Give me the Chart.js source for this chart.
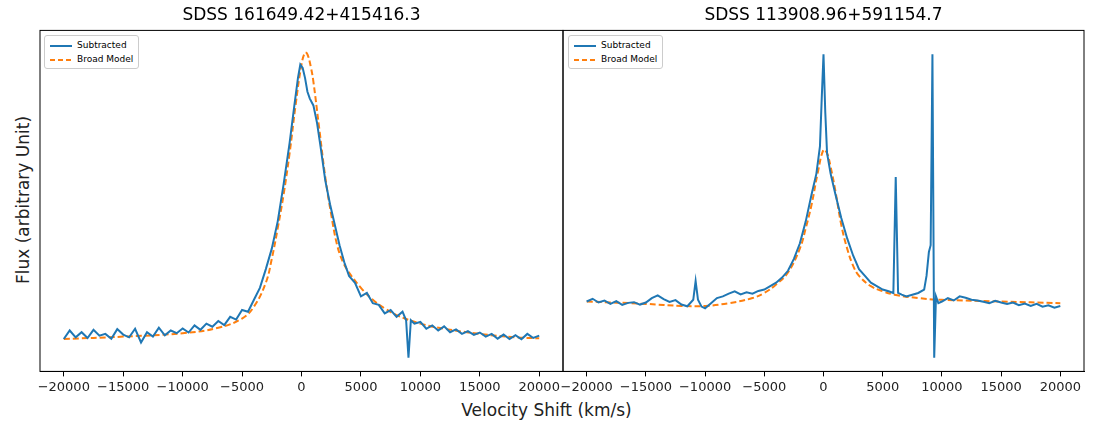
<!DOCTYPE html>
<html><head><meta charset="utf-8">
<script src="https://cdn.jsdelivr.net/npm/chart.js@4"></script>
<style>
body{margin:0;background:#fff;font-family:"DejaVu Sans",sans-serif;}
.wrap{position:absolute;top:0;height:398px;}
.lab{position:absolute;font-size:17px;color:#222;}
.leg{position:absolute;border:1px solid #ccc;border-radius:3px;background:#fff;font-size:9px;padding:2px 5px;line-height:14px;}
.leg svg{vertical-align:middle;margin-right:5px;}
</style></head><body>
<div class="wrap" style="left:34px;width:535px"><canvas id="c1"></canvas></div>
<div class="wrap" style="left:557px;width:533px"><canvas id="c2"></canvas></div>
<div class="lab" style="left:-77px;top:190px;transform:rotate(-90deg);width:200px;text-align:center">Flux (arbitrary Unit)</div>
<div class="lab" style="left:0;width:1093px;text-align:center;top:400px">Velocity Shift (km/s)</div>
<div class="leg" style="left:44px;top:35px"><div><svg width="22" height="4"><line x1="0" y1="2" x2="22" y2="2" stroke="#1f77b4" stroke-width="2"/></svg>Subtracted</div><div><svg width="22" height="4"><line x1="0" y1="2" x2="22" y2="2" stroke="#ff7f0e" stroke-width="2" stroke-dasharray="5,3"/></svg>Broad Model</div></div>
<div class="leg" style="left:568px;top:35px"><div><svg width="22" height="4"><line x1="0" y1="2" x2="22" y2="2" stroke="#1f77b4" stroke-width="2"/></svg>Subtracted</div><div><svg width="22" height="4"><line x1="0" y1="2" x2="22" y2="2" stroke="#ff7f0e" stroke-width="2" stroke-dasharray="5,3"/></svg>Broad Model</div></div>
<script>
// tick values along velocity axis
const tickVals = [-20000,-15000,-10000,-5000,0,5000,10000,15000,20000];

// left object: SDSS 161649.42+415416.3
const velL = [-20000,-19500,-19000,-18500,-18000,-17500,-17000,-16500,-16000,-15500,-15000,-14500,-14000,-13500,-13000,-12500,-12000,-11500,-11000,-10500,-10000,-9500,-9000,-8500,-8000,-7500,-7000,-6500,-6000,-5500,-5000,-4500,-4000,-3500,-3000,-2500,-2000,-1500,-1000,-600,-300,-100,100,300,500,700,1000,1300,1600,2000,2400,2800,3200,3600,4000,4500,5000,5500,6000,6500,7000,7500,8000,8500,8800,9000,9200,9500,10000,10500,11000,11500,12000,12500,13000,13500,14000,14500,15000,15500,16000,16500,17000,17500,18000,18500,19000,19500,20000];
const fluxL = [9.5,12,10,11.5,9.8,12.2,10.5,11,9.6,12.4,10.8,10,12.5,8.5,11.5,10.2,12.8,10.6,12,11.2,12.6,11.4,13.5,12.2,14,13.1,14.8,13.6,16,15.2,18,17.5,21,24.5,30,36,44,55,67,78,86,90,89,86,82,80,78,73,66,56,49,43,37,32,28,26,22,23,20,19.5,17,18,16,17.5,15,4,15,14,14.5,12.5,13.5,12,13.2,11.5,12.3,11,11.8,10.7,11.4,10.2,11,9.6,10.8,9.5,10.6,9.4,11,9.8,10.5];
const velBL = [-20000,-15000,-10000,-7000,-5000,-4000,-3000,-2500,-2000,-1500,-1000,-500,0,300,500,800,1000,1500,2000,2500,3000,3500,4000,5000,6000,7000,8000,10000,12000,15000,18000,20000];
const modelL = [9.5,10.2,11.2,12.8,15.5,19,26,33,42,52,64,78,90,93.5,93,89,85,71,57,46,37,32,29,24.5,21,18.5,16.5,14,12.5,11,10,9.7];

// right object: SDSS 113908.96+591154.7
const velR = [-20000,-19500,-19000,-18500,-18000,-17500,-17000,-16500,-16000,-15500,-15000,-14500,-14000,-13500,-13000,-12500,-12000,-11500,-11000,-10800,-10600,-10300,-10000,-9500,-9000,-8500,-8000,-7500,-7000,-6500,-6000,-5500,-5000,-4500,-4000,-3500,-3000,-2500,-2000,-1500,-1000,-600,-300,-150,0,150,300,600,1000,1500,2000,2500,3000,3500,4000,4500,5000,5500,5900,6100,6300,6600,7000,7500,8000,8500,8700,8900,9050,9200,9350,9500,9700,10000,10500,11000,11500,12000,12500,13000,13500,14000,14500,15000,15500,16000,16500,17000,17500,18000,18500,19000,19500,20000];
const fluxR = [20.5,21.3,20.2,20.8,19.8,20.6,19.5,20.1,20.3,19.6,20.2,21.5,22.3,21.2,20.4,20.9,19.6,19.1,21,26.5,21,19,18.5,20,21.5,22,22.8,23.5,22.6,23.2,22.8,23.6,24,25,26,27.5,29.5,33,37.5,44,52,58,66,80,93,76,64,58,52,45,39,34,30,28,26,25,24,23.5,23,57,23,22.5,22,22.5,23,24,28,35,37,93,4,22,20,20.5,21.5,20.8,22,21.6,21,20.8,20.4,20,20.7,20.2,19.8,20.2,19.4,19.9,19.2,19.8,19,19.4,18.7,19.2];
const velBR = [-20000,-15000,-12000,-10000,-8000,-6000,-5000,-4000,-3000,-2000,-1500,-1000,-500,0,300,600,1000,1500,2000,2500,3000,4000,5000,6000,8000,10000,15000,20000];
const modelR = [20.5,19.8,19.2,19.2,20,21.5,23,25.5,29,36,42,49,58,65,64,60,53,43,36,31,28,25,23.5,22.5,21.5,21,20.5,20];

function pts(xs, ys) { return xs.map((x, i) => ({x: x, y: ys[i]})); }

const boxPlugin = {
    id: 'box',
    afterDraw(chart) {
        const a = chart.chartArea, c = chart.ctx;
        c.save(); c.strokeStyle = '#000'; c.lineWidth = 1;
        c.strokeRect(a.left, a.top, a.right - a.left, a.bottom - a.top);
        c.restore();
    }
};

function makeChart(id, title, xs, ys, bx, by, ymin, ymax) {
    return new Chart(document.getElementById(id), {
        type: 'line',
        data: {
            datasets: [
                { data: pts(xs, ys), borderColor: '#1f77b4', borderWidth: 2, pointRadius: 0, tension: 0 },
                { data: pts(bx, by), borderColor: '#ff7f0e', borderWidth: 2, borderDash: [6, 3], pointRadius: 0, tension: 0.4 }
            ]
        },
        options: {
            responsive: true, maintainAspectRatio: false, animation: false,
            layout: { padding: { left: 6, right: 6 } },
            plugins: {
                legend: { display: false },
                title: { display: true, text: title, color: '#000', font: { family: 'DejaVu Sans', size: 17, weight: 'normal' }, padding: { top: 5, bottom: 5 } }
            },
            scales: {
                x: {
                    type: 'linear', min: -22000, max: 22000,
                    afterBuildTicks: ax => { ax.ticks = tickVals.map(v => ({value: v})); },
                    ticks: { color: '#222', font: { family: 'DejaVu Sans', size: 13 }, maxRotation: 0, autoSkip: false,
                        callback: v => (v < 0 ? '\u2212' + (-v) : '' + v) },
                    grid: { drawOnChartArea: false, drawTicks: true, tickLength: 5, color: '#000' },
                    border: { color: '#000' }
                },
                y: { display: false, min: ymin, max: ymax }
            }
        },
        plugins: [boxPlugin]
    });
}

makeChart('c1', 'SDSS 161649.42+415416.3', velL, fluxL, velBL, modelL, 0, 100);
makeChart('c2', 'SDSS 113908.96+591154.7', velR, fluxR, velBR, modelR, 0, 100);
</script>
</body></html>
